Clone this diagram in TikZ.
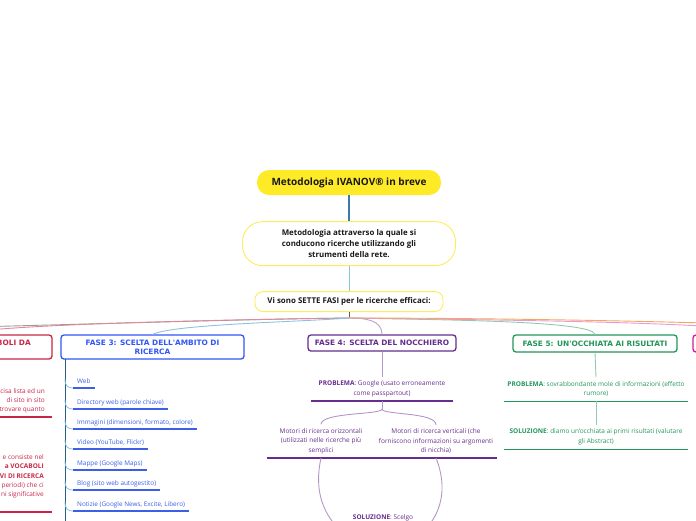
\documentclass[tikz,border=0pt]{standalone}
\usepackage{fontspec}
\setmainfont{Open Sans}
\newfontfamily\fasefont{DejaVu Sans}
\usepackage{xcolor}
\definecolor{sun}{RGB}{255,234,40}
\definecolor{sunline}{RGB}{255,236,90}
\definecolor{ink}{RGB}{25,25,25}
\definecolor{stem}{RGB}{60,120,170}
\definecolor{skyline}{RGB}{140,195,225}
\definecolor{crimson}{RGB}{200,38,70}
\definecolor{royal}{RGB}{50,85,245}
\definecolor{itemblue}{RGB}{60,95,230}
\definecolor{spine}{RGB}{40,95,130}
\definecolor{plum}{RGB}{102,45,140}
\definecolor{leaf}{RGB}{35,150,90}
\definecolor{fuchsia}{RGB}{205,30,155}
\definecolor{amber}{RGB}{245,165,100}
\definecolor{ash}{RGB}{130,130,130}
\usepackage{tikz}
\usetikzlibrary{positioning,calc}

\tikzset{
  %% centre column
  titlebox/.style={fill=sun, rounded corners=12pt, minimum width=184pt,
    minimum height=25pt, inner sep=0pt, text=ink,
    font=\bfseries\fontsize{10}{11}\selectfont},
  pillbox/.style={draw=sunline, fill=white, line width=0.9pt,
    rounded corners=20pt, minimum width=213pt, minimum height=44pt,
    inner sep=0pt, align=center, text=ink,
    font=\bfseries\fontsize{7.9}{11}\selectfont},
  fasibox/.style={draw=sunline, fill=white, line width=0.9pt,
    rounded corners=8pt, minimum width=188pt, minimum height=20pt,
    inner sep=0pt, text=ink, font=\bfseries\fontsize{7.9}{9}\selectfont},
  trunk/.style={draw=stem, line width=1.3pt},
  trunkthin/.style={draw=skyline, line width=0.9pt},
  %% phase boxes and their notes
  fasebox/.style={draw=#1, text=#1, fill=white, line width=1.3pt,
    rounded corners=3pt, inner sep=0pt, align=center,
    font=\fasefont\bfseries\fontsize{7.4}{9}\selectfont},
  branch/.style={draw=#1, line width=0.9pt},
  notetxt/.style={text=#1, inner xsep=0pt, inner ysep=4pt, align=center,
    font=\fontsize{6.5}{9.4}\selectfont},
  underrule/.style={draw=#1, line width=1.4pt},
  itemtxt/.style={text=itemblue, inner xsep=4pt, inner ysep=3pt,
    text height=4.8pt, text depth=1.5pt, font=\fontsize{6.4}{8}\selectfont},
  twig/.style={draw=skyline, line width=0.8pt},
}

\begin{document}
\begin{tikzpicture}[x=1pt,y=-1pt]
\useasboundingbox (0,0) rectangle (696,520);
\clip (0,0) rectangle (696,520);

%% centre column
\node[titlebox] (title) at (349,182.5) {Metodologia IVANOV® in breve};
\node[pillbox, below=26pt of title] (intro)
  {Metodologia attraverso la quale si\\conducono ricerche utilizzando gli\\strumenti della rete.};
\node[fasibox, below=25pt of intro] (fasi) {Vi sono SETTE FASI per le ricerche efficaci:};
\draw[trunk] (title) -- (intro);
\draw[trunkthin] (intro) -- (fasi);
\draw[draw=ink!70, line width=1pt] (fasi.south) -- ++(0,6) coordinate (hub);

%% phase boxes
\coordinate (f1) at (-220,332);
\node[fasebox=crimson, minimum width=184pt, minimum height=24pt] (f2) at (-40,347) {};
\node[fasebox=royal, minimum width=183pt, minimum height=24pt] (f3) at (152.5,347)
  {FASE 3: SCELTA DELL'AMBITO DI\\RICERCA};
\node[fasebox=plum, minimum width=148pt, minimum height=16pt] (f4) at (382,343)
  {FASE 4: SCELTA DEL NOCCHIERO};
\node[fasebox=leaf, minimum width=164pt, minimum height=17pt] (f5) at (595,343.5)
  {FASE 5: UN'OCCHIATA AI RISULTATI};
\node[fasebox=fuchsia, minimum width=170pt, minimum height=17pt] (f6) at (778,343.5) {};
\coordinate (f7) at (1000,336);

%% links from the hub
\draw[branch=ash!80] (hub) .. controls (250,319) and (100,324) .. (f1);
\draw[branch=crimson!55] (hub) .. controls (200,320) and (-10,325) .. (f2.north);
\draw[branch=skyline] (hub) .. controls (300,322) and (175,324) .. (f3.north);
\draw[branch=plum!45] (hub) .. controls (365,318) and (382,320) .. (f4.north);
\draw[branch=leaf!50] (hub) .. controls (450,320) and (592,321) .. (f5.north);
\draw[branch=fuchsia!45] (hub) .. controls (500,320) and (740,322) .. (f6.north);
\draw[branch=amber] (hub) .. controls (500,318) and (800,322) .. (f7);

%% FASE 2 (cut at the left edge)
\node[text=crimson, inner sep=0pt, anchor=east,
  font=\fasefont\bfseries\fontsize{7.4}{9}\selectfont] (f2txt) at (31,343) {BOLI DA};
\node[notetxt=crimson, align=right, anchor=east, font=\fontsize{6.5}{9.2}\selectfont] (r1) at (45,401)
  {cisa lista ed un\\di sito in sito\\trovare quanto};
\node[notetxt=crimson, align=right, anchor=east, font=\fontsize{6.5}{9.25}\selectfont] (r2) at (44,476.5)
  {e consiste nel\\\textbf{a VOCABOLI}\\\textbf{VI DI RICERCA}\\o periodi) che ci\\ni significative};
\coordinate (r1l) at (-10,417); \coordinate (r1r) at (52,417);
\coordinate (r2l) at (-10,512); \coordinate (r2r) at (52,512);
\draw[underrule=crimson] (r1l) -- (r1r);
\draw[underrule=crimson] (r2l) -- (r2r);

%% FASE 3
\coordinate (sptop) at (65,359);
\coordinate (spbot) at (65,525);
\draw[draw=spine, line width=0.8pt] (sptop) -- (spbot);
\foreach \i/\txt/\uy in {1/Web/388, 2/Directory web (parole chiave)/409,
    3/{Immagini (dimensioni, formato, colore)}/429, 4/{Video (YouTube, Flickr)}/449,
    5/Mappe (Google Maps)/470, 6/Blog (sito web autogestito)/490,
    7/{Notizie (Google News, Excite, Libero)}/511}{
  \node[itemtxt, anchor=south west] (it\i) at (73,\uy) {\txt};
  \coordinate (sp\i) at (65,\uy-9);
  \draw[twig] (sp\i) .. controls (65,\uy-2) and (68,\uy) .. (it\i.south west);
  \draw[underrule=itemblue] (it\i.south west) -- (it\i.south east);
}

%% FASE 4
\node[notetxt=plum, anchor=south, minimum width=142pt] (p4) at (382,401)
  {\textbf{PROBLEMA}: Google (usato erroneamente\\come passpartout)};
\node[notetxt=plum, anchor=south, minimum width=108pt] (m1) at (321,458)
  {Motori di ricerca orizzontali\\(utilizzati nelle ricerche più\\semplici};
\node[notetxt=plum, anchor=south, minimum width=122pt] (m2) at (436,458)
  {Motori di ricerca verticali (che\\forniscono informazioni su argomenti\\di nicchia)};
\node[notetxt=plum, anchor=base] (sol) at (383,519.5) {\textbf{SOLUZIONE}: Scelgo};
\coordinate (solL) at (345,535);
\coordinate (solR) at (420,535);
\draw[branch=plum!50] (f4.south) -- (p4.north);
\draw[underrule=plum] (p4.south west) -- (p4.south east);
\draw[branch=plum!50] (p4.south) -- ++(0,8) coordinate (fork);
\draw[branch=plum!50] (fork) .. controls (382,415) and (321,412) .. (m1.north);
\draw[branch=plum!50] (fork) .. controls (382,415) and (436,412) .. (m2.north);
\draw[underrule=plum] (m1.south west) -- (m2.south east);
\draw[branch=plum!50] (m1.south) .. controls (314,490) and (322,515) .. (solL);
\draw[branch=plum!50] (m2.south) .. controls (448,488) and (442,515) .. (solR);

%% FASE 5
\node[notetxt=leaf, anchor=south, minimum width=184pt] (p5) at (596,401)
  {\textbf{PROBLEMA}: sovrabbondante mole di informazioni (effetto\\rumore)};
\node[notetxt=leaf, anchor=south, minimum width=184pt] (s5) at (596,449)
  {\textbf{SOLUZIONE}: diamo un'occhiata ai primi risultati (valutare\\gli Abstract)};
\draw[branch=leaf!50] (f5.south) -- (p5.north);
\draw[underrule=leaf, line width=0.9pt] (p5.south west) -- (p5.south east);
\draw[branch=leaf!50] (p5.south) -- (s5.north);
\draw[underrule=leaf, line width=0.9pt] (s5.south west) -- (s5.south east);
\end{tikzpicture}
\end{document}
